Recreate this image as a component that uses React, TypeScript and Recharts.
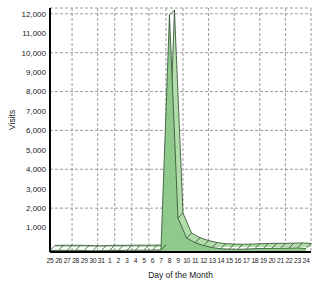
import React from 'react';
import { AreaChart, Area, XAxis, YAxis, CartesianGrid } from 'recharts';

const days = [
  '25', '26', '27', '28', '29', '30', '31',
  '1', '2', '3', '4', '5', '6', '7', '8', '9', '10', '11', '12',
  '13', '14', '15', '16', '17', '18', '19', '20', '21', '22', '23', '24',
];
const visits = [
  80, 90, 85, 90, 80, 60, 70,
  90, 85, 90, 95, 90, 100, 110, 12200, 1750, 720, 480, 330,
  230, 170, 150, 140, 150, 170, 180, 190, 190, 200, 210, 180,
];
const yTicks = [1000, 2000, 3000, 4000, 5000, 6000, 7000, 8000, 9000, 10000, 11000, 12000];

const data = days.map((day, i) => ({ day, visits: visits[i] }));

const DEPTH = 5;
const font = 'Arial, "Liberation Sans", sans-serif';

// diagonal edge joining the front and back outline at each day
const RibbonEdge = (props: any) => {
  const { cx, cy, index } = props;
  if (cx == null || cy == null) return <g key={index} />;
  return (
    <line key={index} x1={cx} y1={cy} x2={cx + DEPTH} y2={cy - DEPTH}
      stroke="#2c4a2c" strokeWidth={0.8} />
  );
};

export default function App() {
  return (
    <div style={{ position: 'absolute', left: 0, top: 0, width: 320, height: 284, background: '#fff' }}>
      <AreaChart width={320} height={284} data={data}
        margin={{ top: 8, right: 9, left: 4, bottom: 2 }}>
        <CartesianGrid xAxisId="b" yAxisId="b" stroke="#9a9a9a" strokeDasharray="3 2" />
        <XAxis xAxisId="f" dataKey="day" interval={0} tickLine={false} tickSize={0} tickMargin={6}
          padding={{ left: 0, right: DEPTH }}
          axisLine={{ stroke: '#000', strokeWidth: 2 }}
          tick={{ fill: '#222', fontSize: 6.8, fontFamily: font, letterSpacing: -0.4 }}
          height={30}
          label={{ value: 'Day of the Month', position: 'insideBottom', offset: 4, fill: '#222', fontSize: 8.5, fontFamily: font }} />
        <XAxis xAxisId="b" dataKey="day" hide height={0} padding={{ left: DEPTH, right: 0 }} />
        <XAxis xAxisId="t" dataKey="day" orientation="top" height={0} tick={false} tickLine={false}
          axisLine={{ stroke: '#333', strokeWidth: 1.5 }} />
        <YAxis yAxisId="b" domain={[0, 12300]} ticks={yTicks} width={46} tickLine={false} tickSize={0} tickMargin={4}
          padding={{ top: 0, bottom: DEPTH }}
          tickFormatter={(v: number) => v.toLocaleString('en-US')}
          axisLine={{ stroke: '#000', strokeWidth: 2 }}
          tick={{ fill: '#222', fontSize: 8, fontFamily: font }}
          label={{ value: 'Visits', angle: -90, position: 'insideLeft', offset: 8, fill: '#222', fontSize: 8.5, fontFamily: font }} />
        <YAxis yAxisId="f" domain={[0, 12300]} hide width={0} padding={{ top: DEPTH, bottom: 0 }} />
        <Area xAxisId="b" yAxisId="b" dataKey="visits" type="linear" isAnimationActive={false}
          fill="#b2dcaa" fillOpacity={1} stroke="#2c4a2c" strokeWidth={0.8} dot={false} activeDot={false} />
        <Area xAxisId="f" yAxisId="f" dataKey="visits" type="linear" isAnimationActive={false}
          fill="#8fc98b" fillOpacity={1} stroke="#2c4a2c" strokeWidth={0.8} dot={RibbonEdge} activeDot={false} />
      </AreaChart>
    </div>
  );
}
